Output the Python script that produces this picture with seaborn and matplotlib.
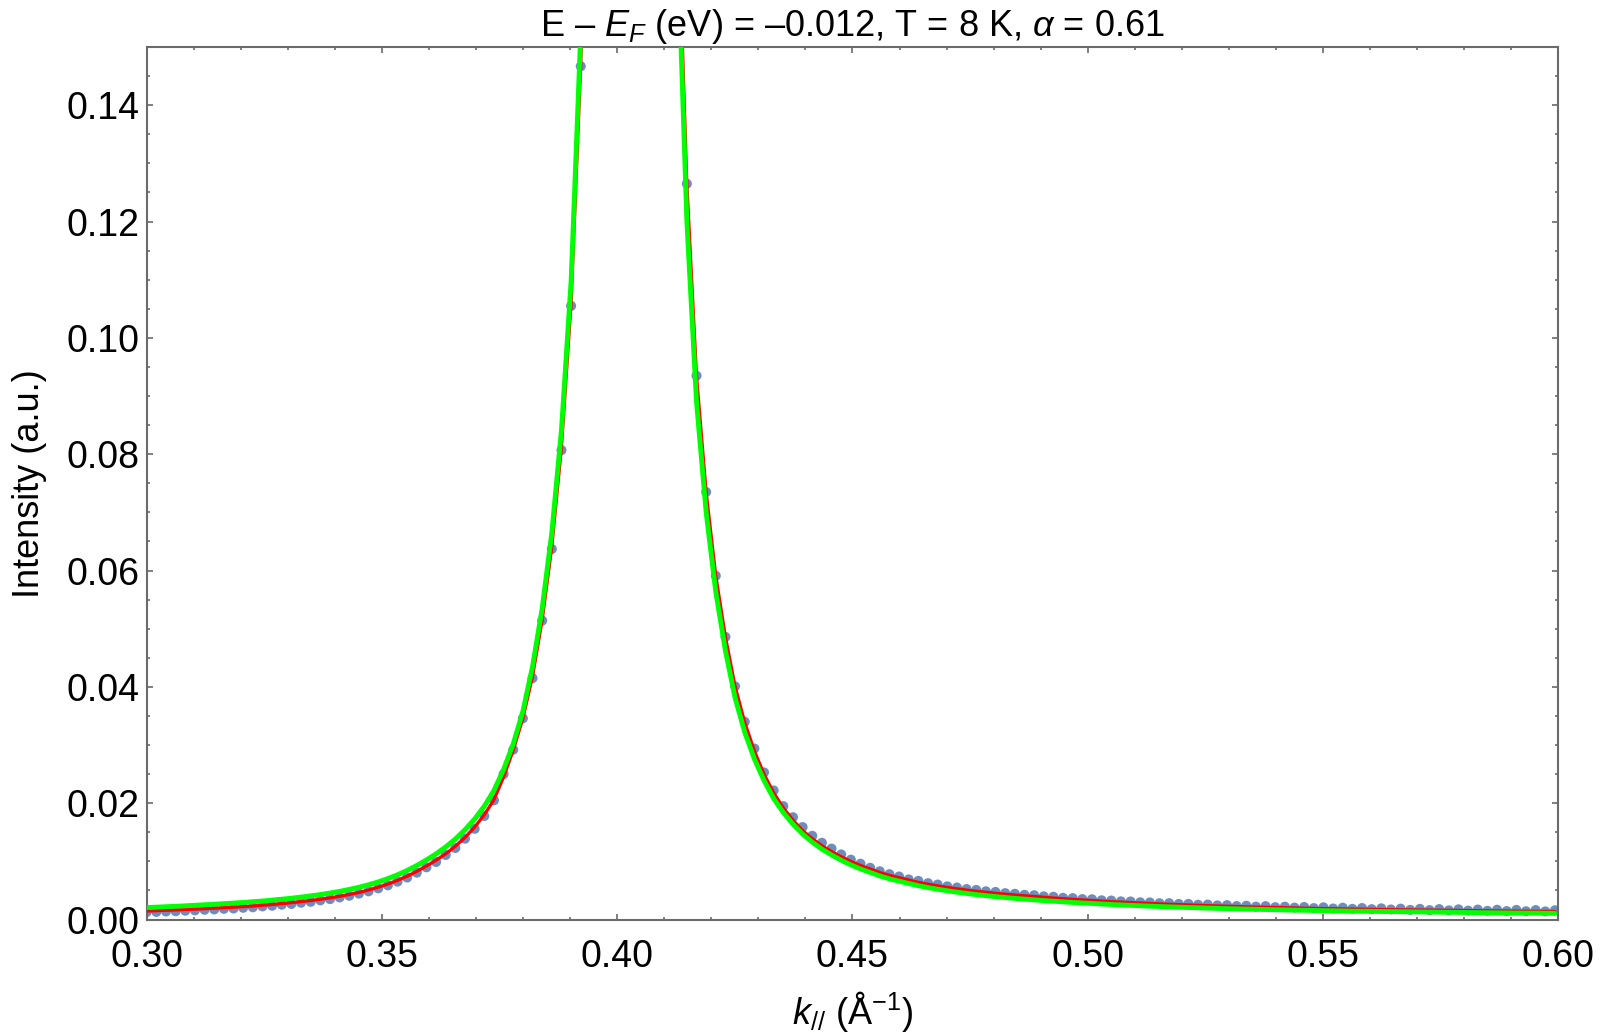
"""MDC at E - E_F = -0.012 eV: measured intensity with two fitted line shapes."""

import matplotlib

matplotlib.use("Agg")
import matplotlib.pyplot as plt
import pandas as pd
import seaborn as sns
from matplotlib.ticker import AutoMinorLocator

# momentum grid of the measured MDC (1/Angstrom)
K_PAR = [
    0.30000, 0.30205, 0.30410, 0.30615, 0.30820, 0.31025, 0.31230, 0.31435, 0.31640, 0.31845,
    0.32050, 0.32255, 0.32460, 0.32665, 0.32870, 0.33075, 0.33280, 0.33485, 0.33690, 0.33895,
    0.34100, 0.34305, 0.34510, 0.34715, 0.34920, 0.35125, 0.35330, 0.35535, 0.35740, 0.35945,
    0.36150, 0.36355, 0.36560, 0.36765, 0.36970, 0.37175, 0.37380, 0.37585, 0.37790, 0.37995,
    0.38200, 0.38405, 0.38610, 0.38815, 0.39020, 0.39225, 0.39430, 0.39635, 0.39840, 0.40045,
    0.40250, 0.40455, 0.40660, 0.40865, 0.41070, 0.41275, 0.41480, 0.41685, 0.41890, 0.42095,
    0.42300, 0.42505, 0.42710, 0.42915, 0.43120, 0.43325, 0.43530, 0.43735, 0.43940, 0.44145,
    0.44350, 0.44555, 0.44760, 0.44965, 0.45170, 0.45375, 0.45580, 0.45785, 0.45990, 0.46195,
    0.46400, 0.46605, 0.46810, 0.47015, 0.47220, 0.47425, 0.47630, 0.47835, 0.48040, 0.48245,
    0.48450, 0.48655, 0.48860, 0.49065, 0.49270, 0.49475, 0.49680, 0.49885, 0.50090, 0.50295,
    0.50500, 0.50705, 0.50910, 0.51115, 0.51320, 0.51525, 0.51730, 0.51935, 0.52140, 0.52345,
    0.52550, 0.52755, 0.52960, 0.53165, 0.53370, 0.53575, 0.53780, 0.53985, 0.54190, 0.54395,
    0.54600, 0.54805, 0.55010, 0.55215, 0.55420, 0.55625, 0.55830, 0.56035, 0.56240, 0.56445,
    0.56650, 0.56855, 0.57060, 0.57265, 0.57470, 0.57675, 0.57880, 0.58085, 0.58290, 0.58495,
    0.58700, 0.58905, 0.59110, 0.59315, 0.59520, 0.59725, 0.59930,
]

# measured intensity (a.u.), points above 0.15 are outside the plot range
INTENSITY = [
    0.00128, 0.00131, 0.00139, 0.00143, 0.00152, 0.00158, 0.00168, 0.00174, 0.00184, 0.00190,
    0.00202, 0.00211, 0.00226, 0.00237, 0.00255, 0.00268, 0.00289, 0.00305, 0.00330, 0.00351,
    0.00380, 0.00409, 0.00446, 0.00485, 0.00536, 0.00588, 0.00652, 0.00722, 0.00806, 0.00898,
    0.0099, 0.0111, 0.0123, 0.0139, 0.0156, 0.0178, 0.0205, 0.0250, 0.0292, 0.0346,
    0.0415, 0.0514, 0.0637, 0.0807, 0.1055, 0.1467, 0.22, 0.35, 0.63, 1.42,
    3.55, 3.25, 1.28, 0.57, 0.30, 0.18, 0.1265, 0.0935, 0.0735, 0.0591,
    0.0486, 0.0401, 0.0340, 0.0294, 0.0253, 0.0222, 0.0195, 0.0176, 0.0159, 0.0144,
    0.0132, 0.0122, 0.0112, 0.0103, 0.0096, 0.0089, 0.0083, 0.0078, 0.0074, 0.0069,
    0.00665, 0.00626, 0.00602, 0.00571, 0.00551, 0.00524, 0.00509, 0.00486, 0.00475, 0.00454,
    0.00443, 0.00425, 0.00418, 0.00399, 0.00392, 0.00374, 0.00369, 0.00352, 0.00349, 0.00331,
    0.00327, 0.00313, 0.00311, 0.00297, 0.00295, 0.00281, 0.00282, 0.00268, 0.00270, 0.00255,
    0.00258, 0.00243, 0.00248, 0.00232, 0.00238, 0.00222, 0.00231, 0.00213, 0.00222, 0.00205,
    0.00216, 0.00197, 0.00210, 0.00190, 0.00204, 0.00184, 0.00198, 0.00179, 0.00193, 0.00173,
    0.00188, 0.00166, 0.00184, 0.00162, 0.00180, 0.00158, 0.00176, 0.00154, 0.00172, 0.00150,
    0.00169, 0.00146, 0.00166, 0.00143, 0.00163, 0.00140, 0.00160,
]

# first fit (red)
FIT_RED = [
    0.00146, 0.00152, 0.00158, 0.00165, 0.00172, 0.00180, 0.00187, 0.00195, 0.00203, 0.00212,
    0.00222, 0.00233, 0.00245, 0.00259, 0.00274, 0.00290, 0.00308, 0.00327, 0.00349, 0.00373,
    0.00400, 0.00431, 0.00466, 0.00508, 0.00556, 0.00610, 0.00673, 0.00745, 0.00828, 0.00920,
    0.0102, 0.0113, 0.0126, 0.0141, 0.0159, 0.0180, 0.0206, 0.0245, 0.0291, 0.0346,
    0.0418, 0.0515, 0.0641, 0.0812, 0.1060, 0.1470, 0.215, 0.34, 0.62, 1.40,
    3.60, 3.20, 1.30, 0.58, 0.31, 0.178, 0.1265, 0.0935, 0.0735, 0.0591,
    0.0486, 0.0401, 0.0339, 0.0290, 0.0250, 0.0218, 0.0192, 0.0171, 0.0153, 0.0139,
    0.0127, 0.0117, 0.0108, 0.0100, 0.0093, 0.0087, 0.0081, 0.0076, 0.0072, 0.0068,
    0.00640, 0.00608, 0.00579, 0.00553, 0.00529, 0.00507, 0.00487, 0.00469, 0.00452, 0.00437,
    0.00422, 0.00409, 0.00396, 0.00383, 0.00371, 0.00359, 0.00348, 0.00338, 0.00328, 0.00318,
    0.00309, 0.00300, 0.00292, 0.00284, 0.00277, 0.00270, 0.00263, 0.00257, 0.00251, 0.00245,
    0.00239, 0.00234, 0.00229, 0.00224, 0.00219, 0.00215, 0.00211, 0.00207, 0.00203, 0.00199,
    0.00196, 0.00192, 0.00189, 0.00186, 0.00183, 0.00180, 0.00177, 0.00175, 0.00172, 0.00170,
    0.00167, 0.00165, 0.00163, 0.00161, 0.00159, 0.00157, 0.00155, 0.00153, 0.00151, 0.00150,
    0.00148, 0.00146, 0.00145, 0.00143, 0.00142, 0.00140, 0.00139,
]

# second fit (green)
FIT_GREEN = [
    0.00206, 0.00213, 0.00220, 0.00228, 0.00236, 0.00245, 0.00254, 0.00263, 0.00273, 0.00283,
    0.00294, 0.00306, 0.00319, 0.00334, 0.00350, 0.00367, 0.00386, 0.00407, 0.00430, 0.00456,
    0.00485, 0.00518, 0.00555, 0.00598, 0.00647, 0.00705, 0.00770, 0.00845, 0.00930, 0.01025,
    0.01130, 0.01250, 0.01385, 0.01545, 0.01730, 0.0195, 0.0222, 0.0258, 0.0302, 0.0358,
    0.0435, 0.0535, 0.0665, 0.0842, 0.1098, 0.1525, 0.223, 0.35, 0.64, 1.45,
    3.70, 3.10, 1.25, 0.55, 0.295, 0.170, 0.120, 0.0890, 0.0700, 0.0563,
    0.0462, 0.0381, 0.0322, 0.0276, 0.0239, 0.0208, 0.0184, 0.0164, 0.0147, 0.0133,
    0.0121, 0.0111, 0.0102, 0.0094, 0.0087, 0.0081, 0.0075, 0.0070, 0.0066, 0.0062,
    0.00582, 0.00550, 0.00521, 0.00495, 0.00471, 0.00449, 0.00429, 0.00411, 0.00394, 0.00379,
    0.00364, 0.00351, 0.00338, 0.00326, 0.00315, 0.00304, 0.00294, 0.00285, 0.00276, 0.00267,
    0.00259, 0.00251, 0.00244, 0.00237, 0.00230, 0.00224, 0.00218, 0.00212, 0.00207, 0.00202,
    0.00197, 0.00192, 0.00188, 0.00184, 0.00180, 0.00176, 0.00172, 0.00169, 0.00165, 0.00162,
    0.00159, 0.00156, 0.00153, 0.00150, 0.00148, 0.00145, 0.00143, 0.00140, 0.00138, 0.00136,
    0.00134, 0.00132, 0.00130, 0.00128, 0.00126, 0.00124, 0.00122, 0.00121, 0.00119, 0.00117,
    0.00116, 0.00114, 0.00113, 0.00111, 0.00110, 0.00109, 0.00107,
]

X_TICKS = [0.30, 0.35, 0.40, 0.45, 0.50, 0.55, 0.60]
X_LABELS = ["0.30", "0.35", "0.40", "0.45", "0.50", "0.55", "0.60"]
Y_TICKS = [0.00, 0.02, 0.04, 0.06, 0.08, 0.10, 0.12, 0.14]
Y_LABELS = ["0.00", "0.02", "0.04", "0.06", "0.08", "0.10", "0.12", "0.14"]

FRAME = "#6b6b6b"
DOT = "#5e81b5"

sns.set_theme(
    style="ticks",
    rc={
        "axes.edgecolor": FRAME,
        "axes.linewidth": 1.5,
        "text.color": "black",
        "axes.labelcolor": "black",
        "xtick.color": FRAME,
        "ytick.color": FRAME,
        "xtick.labelcolor": "black",
        "ytick.labelcolor": "black",
        "mathtext.fontset": "custom",
        "mathtext.rm": "Liberation Sans",
        "mathtext.it": "Liberation Sans:italic",
    },
)
plt.rcParams["font.family"] = ["Liberation Sans", "DejaVu Sans"]

df = pd.DataFrame({"k": K_PAR, "intensity": INTENSITY, "fit_red": FIT_RED, "fit_green": FIT_GREEN})

fig = plt.figure(figsize=(16, 10.36), dpi=100)
ax = fig.add_axes([0.0917, 0.1124, 0.8822, 0.8422])

sns.scatterplot(data=df, x="k", y="intensity", color=DOT, s=52, edgecolor="none", alpha=0.9, ax=ax, zorder=2)
sns.lineplot(data=df, x="k", y="fit_red", color="#ff0000", lw=2.3, ax=ax, zorder=3)
sns.lineplot(data=df, x="k", y="fit_green", color="#00ff00", lw=3.5, ax=ax, zorder=4)

ax.set_xlim(0.30, 0.60)
ax.set_ylim(0.0, 0.15)
ax.set_xticks(X_TICKS, X_LABELS)
ax.set_yticks(Y_TICKS, Y_LABELS)
ax.xaxis.set_minor_locator(AutoMinorLocator(5))
ax.yaxis.set_minor_locator(AutoMinorLocator(4))
ax.tick_params(which="both", direction="in", top=True, right=True, width=1.2)
ax.tick_params(which="major", length=4, labelsize=27)
ax.tick_params(which="minor", length=2.5)
ax.tick_params(axis="x", which="major", pad=14)
ax.tick_params(axis="y", which="major", pad=5)

ax.set_title(r"E – $E_F$ (eV) = –0.012, T = 8 K, $\alpha$ = 0.61", fontsize=26, pad=8, color="black")
ax.set_xlabel(r"$k_{//}$ (Å$^{-1}$)", fontsize=26)
ax.set_ylabel("Intensity (a.u.)", fontsize=26)
ax.xaxis.set_label_coords(0.5, -0.080)
ax.yaxis.set_label_coords(-0.071, 0.5)

fig.savefig("out.png", dpi=100)
plt.close(fig)
